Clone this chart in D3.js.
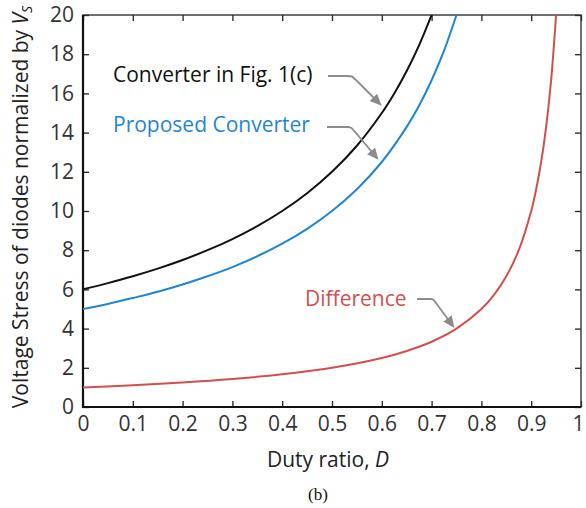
<!DOCTYPE html>
<html>
<head>
<meta charset="utf-8">
<script src="https://cdn.jsdelivr.net/npm/d3@7"></script>
<style>
  body { margin: 0; background: #fff; }
  text { font-family: "Open Sans", "Noto Sans", sans-serif; }
</style>
</head>
<body>
<script>
// duty ratio samples and normalized diode stress
var dConv = [0, 0.05, 0.1, 0.15, 0.2, 0.25, 0.3, 0.35, 0.4, 0.45, 0.5, 0.55, 0.6, 0.625, 0.65, 0.675, 0.7];
var vConv = [6, 6.32, 6.67, 7.06, 7.5, 8.0, 8.57, 9.23, 10.0, 10.91, 12.0, 13.33, 15.0, 16.0, 17.14, 18.46, 20.0];

var dProp = [0, 0.05, 0.1, 0.15, 0.2, 0.25, 0.3, 0.35, 0.4, 0.45, 0.5, 0.55, 0.6, 0.65, 0.675, 0.7, 0.725, 0.75];
var vProp = [5, 5.26, 5.56, 5.88, 6.25, 6.67, 7.14, 7.69, 8.33, 9.09, 10.0, 11.11, 12.5, 14.29, 15.38, 16.67, 18.18, 20.0];

var dDiff = [0, 0.1, 0.2, 0.3, 0.4, 0.5, 0.6, 0.65, 0.7, 0.75, 0.8, 0.825, 0.85, 0.875, 0.9, 0.91, 0.92, 0.93, 0.94, 0.95];
var vDiff = [1, 1.11, 1.25, 1.43, 1.67, 2.0, 2.5, 2.86, 3.33, 4.0, 5.0, 5.71, 6.67, 8.0, 10.0, 11.11, 12.5, 14.29, 16.67, 20.0];

var xTicks = [0, 0.1, 0.2, 0.3, 0.4, 0.5, 0.6, 0.7, 0.8, 0.9, 1];
var yTicks = [0, 2, 4, 6, 8, 10, 12, 14, 16, 18, 20];

var W = 586, H = 508;
var m = { left: 83, right: 5, top: 15, bottom: 101 };
var fs = '21px';

var svg = d3.select('body').append('svg')
    .attr('width', W).attr('height', H);

var x = d3.scaleLinear().domain([0, 1]).range([m.left, W - m.right]);
var y = d3.scaleLinear().domain([0, 20]).range([H - m.bottom, m.top]);

// clip so the curves stop at the frame
svg.append('clipPath').attr('id', 'clip')
  .append('rect')
    .attr('x', x(0)).attr('y', y(20))
    .attr('width', x(1) - x(0)).attr('height', y(0) - y(20));

// ticks on all four sides, pointing inward
function styleAxis(g) {
  g.select('.domain').remove();
  g.selectAll('.tick line').attr('stroke', '#222').attr('stroke-width', 1.3);
  g.selectAll('.tick text')
    .attr('fill', '#333')
    .style('font-size', fs);
}

var xAxisG = svg.append('g')
    .attr('transform', 'translate(0,' + y(0) + ')')
    .call(d3.axisBottom(x).tickValues(xTicks).tickSize(-6).tickPadding(9)
      .tickFormat(function (d) { return d === 0 || d === 1 ? d3.format('d')(d) : d3.format('.1f')(d); }))
    .call(styleAxis);

// last label sits against the page edge, pull it in
xAxisG.selectAll('.tick text')
    .filter(function (d) { return d === 1; })
    .attr('text-anchor', 'end')
    .attr('dx', 3);

svg.append('g')
    .attr('transform', 'translate(0,' + y(20) + ')')
    .call(d3.axisTop(x).tickValues(xTicks).tickSize(-6).tickFormat(''))
    .call(styleAxis);

svg.append('g')
    .attr('transform', 'translate(' + x(0) + ',0)')
    .call(d3.axisLeft(y).tickValues(yTicks).tickSize(-6).tickPadding(9))
    .call(styleAxis);

svg.append('g')
    .attr('transform', 'translate(' + x(1) + ',0)')
    .call(d3.axisRight(y).tickValues(yTicks).tickSize(-6).tickFormat(''))
    .call(styleAxis);

// frame: top/right lighter, left/bottom heavier
svg.append('rect')
    .attr('x', x(0)).attr('y', y(20))
    .attr('width', x(1) - x(0)).attr('height', y(0) - y(20))
    .attr('fill', 'none').attr('stroke', '#333').attr('stroke-width', 1.4);
svg.append('path')
    .attr('d', 'M' + x(0) + ',' + y(20) + 'V' + y(0) + 'H' + x(1))
    .attr('fill', 'none').attr('stroke', '#111').attr('stroke-width', 2.2);

var line = d3.line()
    .x(function (d) { return x(d[0]); })
    .y(function (d) { return y(d[1]); })
    .curve(d3.curveCatmullRom);

var series = [
  { d: dConv, v: vConv, color: '#111111' },
  { d: dProp, v: vProp, color: '#1f86d4' },
  { d: dDiff, v: vDiff, color: '#d2504c' }
];

svg.append('g').attr('clip-path', 'url(#clip)')
  .selectAll('path')
  .data(series)
  .enter()
  .append('path')
    .attr('d', function (s) { return line(d3.zip(s.d, s.v)); })
    .attr('fill', 'none')
    .attr('stroke', function (s) { return s.color; })
    .attr('stroke-width', 2);

// annotations with grey bent arrows
svg.append('defs').append('marker')
    .attr('id', 'arrow')
    .attr('viewBox', '0 0 10 10')
    .attr('refX', 8).attr('refY', 5)
    .attr('markerWidth', 6.5).attr('markerHeight', 6.5)
    .attr('markerUnits', 'strokeWidth')
    .attr('orient', 'auto')
  .append('path')
    .attr('d', 'M0,0.5 L10,5 L0,9.5 z')
    .attr('fill', '#8c8c8c');

var notes = [
  { text: 'Converter in Fig. 1(c)', color: '#111', tx: 113, ty: 82, pts: [[328, 76], [352, 76], [380, 104]] },
  { text: 'Proposed Converter', color: '#1f86d4', tx: 113, ty: 132, pts: [[327, 127], [351, 127], [377, 158]] },
  { text: 'Difference', color: '#d2504c', tx: 305, ty: 306, pts: [[417, 299], [433, 299], [453, 326]] }
];

svg.selectAll('.note')
  .data(notes)
  .enter()
  .append('text')
    .attr('class', 'note')
    .attr('x', function (n) { return n.tx; })
    .attr('y', function (n) { return n.ty; })
    .attr('fill', function (n) { return n.color; })
    .style('font-size', fs)
    .text(function (n) { return n.text; });

svg.selectAll('.arrow')
  .data(notes)
  .enter()
  .append('path')
    .attr('class', 'arrow')
    .attr('d', function (n) { return d3.line().curve(d3.curveBasis)([n.pts[0], n.pts[1], n.pts[1], n.pts[2]]); })
    .attr('fill', 'none')
    .attr('stroke', '#8c8c8c')
    .attr('stroke-width', 1.8)
    .attr('marker-end', 'url(#arrow)');

// axis titles
var xt = svg.append('text')
    .attr('x', 328).attr('y', 467)
    .attr('text-anchor', 'middle')
    .attr('fill', '#222')
    .style('font-size', fs);
xt.append('tspan').text('Duty ratio, ');
xt.append('tspan').style('font-style', 'italic').text('D');

var yt = svg.append('text')
    .attr('transform', 'translate(28,' + ((y(0) + y(20)) / 2 - 4) + ') rotate(-90)')
    .attr('text-anchor', 'middle')
    .attr('fill', '#222')
    .style('font-size', fs);
yt.append('tspan').text('Voltage Stress of diodes normalized by ');
yt.append('tspan').style('font-style', 'italic').text('V');
yt.append('tspan').style('font-style', 'italic').style('font-size', '14px').attr('dy', 4).text('S');

svg.append('text')
    .attr('x', 318).attr('y', 500)
    .attr('text-anchor', 'middle')
    .attr('fill', '#111')
    .style('font-family', '"Liberation Serif", "DejaVu Serif", serif')
    .style('font-size', '17px')
    .text('(b)');
</script>
</body>
</html>
